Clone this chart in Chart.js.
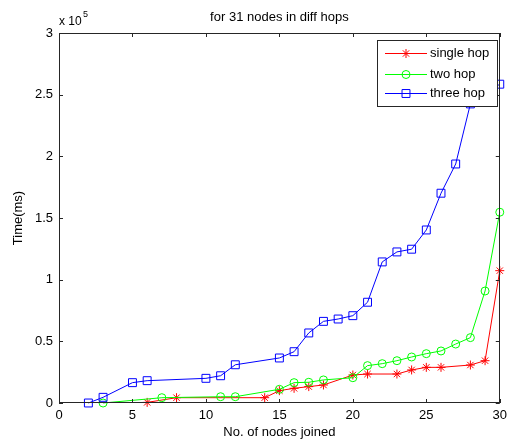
<!DOCTYPE html>
<html>
<head>
<meta charset="utf-8">
<script src="https://cdn.jsdelivr.net/npm/chart.js@4.4.0/dist/chart.umd.min.js"></script>
<style>
  html, body { margin: 0; padding: 0; background: #fff; }
  #wrap { width: 512px; height: 444px; }
</style>
</head>
<body>
<div id="wrap"><canvas id="hops" width="512" height="444"></canvas></div>
<script>
// values (y in ms)
const singleX = [6, 8, 14, 15, 16, 17, 18, 20, 21, 23, 24, 25, 26, 28, 29, 30];
const singleY = [500, 4300, 4300, 10000, 11900, 13300, 14600, 22700, 23500, 23500, 26800, 28900, 28900, 30800, 34300, 107300];

const twoX = [3, 7, 11, 12, 15, 16, 17, 18, 20, 21, 22, 23, 24, 25, 26, 27, 28, 29, 30];
const twoY = [0, 4300, 5100, 5100, 11100, 16500, 16800, 18700, 20500, 30300, 31900, 34300, 37300, 40000, 42200, 47800, 53000, 90800, 154700];

const threeX = [2, 3, 5, 6, 10, 11, 12, 15, 16, 17, 18, 19, 20, 21, 22, 23, 24, 25, 26, 27, 28, 30];
const threeY = [0, 4600, 16500, 18100, 20000, 22100, 31000, 36500, 41600, 56800, 66200, 68100, 70800, 81700, 114400, 122500, 124700, 140300, 170100, 193800, 242500, 258500];

const seriesNames = ['single hop', 'two hop', 'three hop'];
const yTickLabels = ['0', '0.5', '1', '1.5', '2', '2.5', '3'];

const FONT = 'Liberation Sans, Arial, sans-serif';

function pts(xs, ys) {
    return xs.map((x, i) => ({ x: x, y: ys[i] }));
}

// frame, inward ticks, title, exponent label and legend box (matlab style)
const matlabLook = {
    id: 'matlabLook',
    afterDraw(chart) {
        const c = chart.ctx;
        const a = chart.chartArea;
        const xs = chart.scales.x, ys = chart.scales.y;
        c.save();
        c.strokeStyle = '#262626';
        c.lineWidth = 1;
        c.strokeRect(Math.round(a.left) + 0.5, Math.round(a.top) + 0.5,
            Math.round(a.right - a.left) - 1, Math.round(a.bottom - a.top) - 1);

        const tl = 4;
        c.beginPath();
        xs.ticks.forEach(t => {
            const px = Math.round(xs.getPixelForValue(t.value)) + 0.5;
            c.moveTo(px, a.bottom); c.lineTo(px, a.bottom - tl);
            c.moveTo(px, a.top); c.lineTo(px, a.top + tl);
        });
        ys.ticks.forEach(t => {
            const py = Math.round(ys.getPixelForValue(t.value)) + 0.5;
            c.moveTo(a.left, py); c.lineTo(a.left + tl, py);
            c.moveTo(a.right, py); c.lineTo(a.right - tl, py);
        });
        c.stroke();

        // title
        c.fillStyle = '#000';
        c.font = '13px ' + FONT;
        c.textAlign = 'center';
        c.textBaseline = 'middle';
        c.fillText('for 31 nodes in diff hops', (a.left + a.right) / 2, 17);

        // x 10^5
        c.textAlign = 'left';
        c.font = '12px ' + FONT;
        c.fillText('x 10', a.left, 22);
        c.font = '9px ' + FONT;
        c.fillText('5', a.left + 24, 15);

        // legend
        const lx = 377, ly = 40, lw = 120, lh = 66;
        c.fillStyle = '#fff';
        c.fillRect(lx, ly, lw, lh);
        c.strokeStyle = '#262626';
        c.strokeRect(lx + 0.5, ly + 0.5, lw, lh);
        const rows = [53, 74, 93];
        chart.data.datasets.forEach((ds, i) => {
            const y = rows[i];
            c.strokeStyle = ds.borderColor;
            c.lineWidth = 1;
            c.beginPath();
            c.moveTo(385, y + 0.5); c.lineTo(427, y + 0.5);
            c.stroke();
            c.fillStyle = 'rgba(0,0,0,0)';
            Chart.helpers.drawPoint(c, {
                pointStyle: ds.pointStyle, radius: ds.pointRadius,
                borderWidth: 1, rotation: 0
            }, 406, y + 0.5);
            c.fillStyle = '#000';
            c.font = '13px ' + FONT;
            c.textAlign = 'left';
            c.textBaseline = 'middle';
            c.fillText(seriesNames[i], 430, y);
        });
        c.restore();
    }
};

const ctx = document.getElementById('hops');
const hopChart = new Chart(ctx, {
    type: 'line',
    data: {
        datasets: [{
            label: seriesNames[0],
            data: pts(singleX, singleY),
            borderColor: '#ff0000',
            backgroundColor: 'rgba(0,0,0,0)',
            pointStyle: 'star',
            pointRadius: 4.5,
            order: 2
        }, {
            label: seriesNames[1],
            data: pts(twoX, twoY),
            borderColor: '#00ff00',
            backgroundColor: 'rgba(0,0,0,0)',
            pointStyle: 'circle',
            pointRadius: 4,
            order: 1
        }, {
            label: seriesNames[2],
            data: pts(threeX, threeY),
            borderColor: '#0000ff',
            backgroundColor: 'rgba(0,0,0,0)',
            pointStyle: 'rect',
            pointRadius: 5.6,
            order: 0
        }]
    },
    options: {
        responsive: false,
        animation: false,
        clip: false,
        layout: { padding: { top: 33, right: 5, left: 0, bottom: 0 } },
        elements: {
            line: { borderWidth: 1, tension: 0 },
            point: { borderWidth: 1, hoverRadius: 4 }
        },
        scales: {
            x: {
                type: 'linear',
                min: 0,
                max: 30,
                grid: { display: false, drawTicks: false },
                border: { display: false },
                ticks: {
                    stepSize: 5,
                    padding: 5,
                    color: '#000',
                    font: { family: FONT, size: 13 },
                    maxRotation: 0
                },
                title: {
                    display: true,
                    text: 'No. of nodes joined',
                    color: '#000',
                    font: { family: FONT, size: 13 },
                    padding: { top: 0, bottom: 4 }
                },
                afterFit(scale) { scale.height = 41; }
            },
            y: {
                min: 0,
                max: 300000,
                grid: { display: false, drawTicks: false },
                border: { display: false },
                ticks: {
                    stepSize: 50000,
                    padding: 6,
                    color: '#000',
                    font: { family: FONT, size: 13 },
                    callback: (v, i) => yTickLabels[i]
                },
                title: {
                    display: true,
                    text: 'Time(ms)',
                    color: '#000',
                    font: { family: FONT, size: 13 },
                    padding: { top: 11, bottom: 0 }
                },
                afterFit(scale) { scale.width = 59; }
            }
        },
        plugins: {
            legend: { display: false },
            title: { display: false },
            tooltip: { enabled: false }
        }
    },
    plugins: [matlabLook]
});
</script>
</body>
</html>
